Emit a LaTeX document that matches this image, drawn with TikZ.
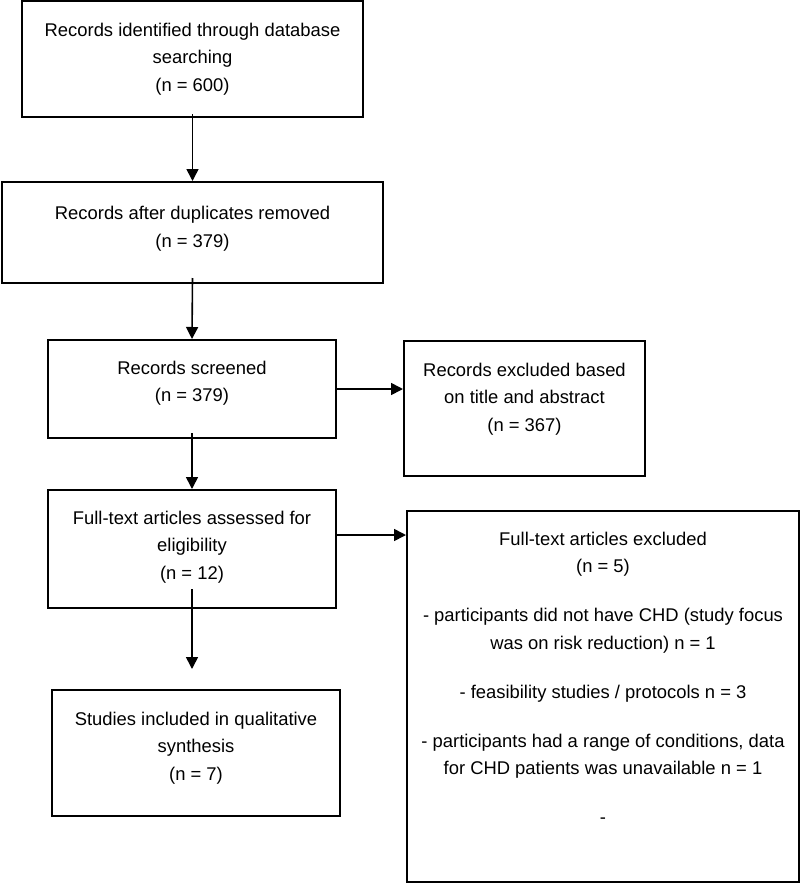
\documentclass[tikz,border=0pt]{standalone}
\usepackage{fontspec}
\setmainfont{Liberation Sans}
\usetikzlibrary{positioning,arrows.meta}
\tikzset{
  flowbox/.style={draw, line width=2pt, align=center, inner sep=0pt,
    font=\fontsize{18.4}{27.5}\selectfont},
  flowarrow/.style={line width=1.6pt, -{Triangle[width=12pt,length=12pt]}}
}

\begin{document}
\begin{tikzpicture}[x=1pt, y=-1pt]
\useasboundingbox (0,0) rectangle (800,883);
% main column
\node[flowbox, minimum width=341pt, minimum height=116pt] (ident) at (192.5,59)
  {Records identified through database\\searching\\(n = 600)};
\node[flowbox, minimum width=381pt, minimum height=101pt, text depth=11.2pt] (dupl) at (192.5,232.5)
  {Records after duplicates removed\\(n = 379)};
\node[flowbox, minimum width=288pt, minimum height=98pt, text depth=15.8pt] (screen) at (192,389)
  {Records screened\\(n = 379)};
\node[flowbox, minimum width=288pt, minimum height=118pt, text depth=8.3pt] (fulltext) at (192,549)
  {Full-text articles assessed for\\eligibility\\(n = 12)};
\node[flowbox, minimum width=288pt, minimum height=126pt, text depth=14.3pt] (incl) at (196,753)
  {Studies included in qualitative\\synthesis\\(n = 7)};
% exclusions
\node[flowbox, minimum width=241pt, minimum height=135pt, text depth=23.3pt] (exclta) at (524.5,408.5)
  {Records excluded based\\on title and abstract\\(n = 367)};
\node[flowbox, minimum width=392pt, minimum height=371pt, text depth=37.8pt] (exclft) at (603,696.5)
  {Full-text articles excluded\\(n = 5)\\[21.5pt]
   - participants did not have CHD (study focus\\was on risk reduction) n = 1\\[21.5pt]
   - feasibility studies / protocols n = 3\\[21.5pt]
   - participants had a range of conditions, data\\for CHD patients was unavailable n = 1\\[21.5pt]
   -};
% arrows
\draw[flowarrow] ([yshift=4pt]ident.south) -- (dupl.north);
\draw[flowarrow] ([yshift=6pt]dupl.south) -- (screen.north);
\draw[flowarrow] ([yshift=6pt]screen.south) -- (fulltext.north);
\draw[flowarrow] ([yshift=20pt]fulltext.south) -- ([yshift=20pt]fulltext.south |- incl.north);
\draw[flowarrow] (screen.east) -- (screen.east -| exclta.west);
\draw[flowarrow] ([yshift=14pt]fulltext.east) -- ([yshift=14pt]fulltext.east -| exclft.west);
\end{tikzpicture}
\end{document}
